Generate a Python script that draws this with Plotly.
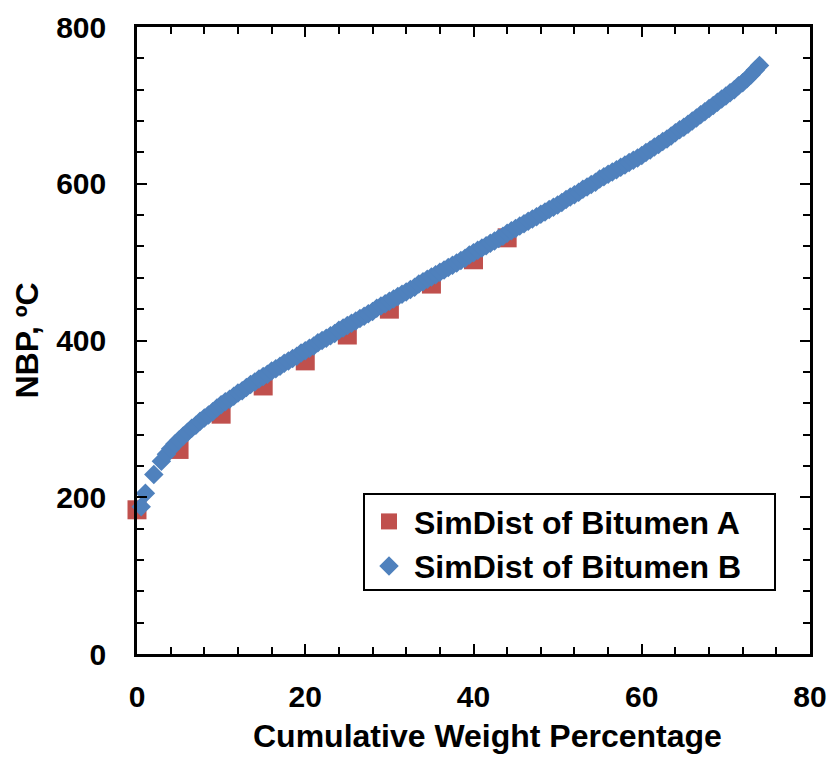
import plotly.graph_objects as go

# Bitumen A (red squares)
a_x = [0, 5, 10, 15, 20, 25, 30, 35, 40, 44]
a_y = [184, 261, 306, 342, 374, 407, 440, 472, 503, 531]

# Bitumen B (blue diamonds)
b_x = [0.5, 1.0, 2.0, 2.9, 3.5,
       4.0, 4.5, 5.0, 5.5, 6.0, 6.5, 7.0, 7.5, 8.0, 8.5, 9.0, 9.5,
       10.0, 10.5, 11.0, 11.5, 12.0, 12.5, 13.0, 13.5, 14.0, 14.5,
       15.0, 15.5, 16.0, 16.5, 17.0, 17.5, 18.0, 18.5, 19.0, 19.5,
       20.0, 20.5, 21.0, 21.5, 22.0, 22.5, 23.0, 23.5, 24.0, 24.5,
       25.0, 25.5, 26.0, 26.5, 27.0, 27.5, 28.0, 28.5, 29.0, 29.5,
       30.0, 30.5, 31.0, 31.5, 32.0, 32.5, 33.0, 33.5, 34.0, 34.5,
       35.0, 35.5, 36.0, 36.5, 37.0, 37.5, 38.0, 38.5, 39.0, 39.5,
       40.0, 40.5, 41.0, 41.5, 42.0, 42.5, 43.0, 43.5, 44.0, 44.5,
       45.0, 45.5, 46.0, 46.5, 47.0, 47.5, 48.0, 48.5, 49.0, 49.5,
       50.0, 50.5, 51.0, 51.5, 52.0, 52.5, 53.0, 53.5, 54.0, 54.5,
       55.0, 55.5, 56.0, 56.5, 57.0, 57.5, 58.0, 58.5, 59.0, 59.5,
       60.0, 60.5, 61.0, 61.5, 62.0, 62.5, 63.0, 63.5, 64.0, 64.5,
       65.0, 65.5, 66.0, 66.5, 67.0, 67.5, 68.0, 68.5, 69.0, 69.5,
       70.0, 70.5, 71.0, 71.5, 72.0, 72.5, 73.0, 73.5, 74.0]
b_y = [188, 205, 229, 246, 255,
       262, 268, 273, 278, 283, 288, 292, 297, 301, 305, 309, 314,
       318, 322, 325, 329, 333, 336, 340, 344, 347, 351,
       354, 357, 361, 364, 367, 371, 374, 377, 380, 384,
       387, 390, 393, 397, 400, 403, 406, 409, 413, 416,
       419, 422, 425, 428, 431, 434, 437, 441, 444, 447,
       450, 453, 456, 459, 462, 465, 468, 472, 475, 478,
       481, 484, 487, 490, 493, 496, 499, 502, 505, 509,
       512, 515, 518, 521, 524, 527, 530, 533, 537, 540,
       543, 546, 549, 552, 555, 558, 561, 564, 567, 570,
       573, 576, 580, 583, 586, 589, 593, 596, 599, 602,
       606, 609, 612, 615, 618, 621, 624, 627, 630, 633,
       636, 640, 643, 647, 650, 654, 657, 661, 665, 669,
       672, 676, 680, 684, 688, 692, 696, 700, 704, 708,
       712, 716, 720, 725, 729, 734, 739, 745, 751]

X_TITLE = "Cumulative Weight Percentage"
Y_TITLE = "NBP, ºC"

RED = "#C0504D"
BLUE = "#4F81BD"
FONT = "Liberation Sans, Arial, sans-serif"

fig = go.Figure()
fig.add_trace(go.Scatter(
    x=a_x, y=a_y, mode="markers", name="SimDist of Bitumen A",
    marker=dict(symbol="square", size=19, color=RED, line=dict(width=0)),
    cliponaxis=False,
))
fig.add_trace(go.Scatter(
    x=b_x, y=b_y, mode="markers", name="SimDist of Bitumen B",
    marker=dict(symbol="diamond", size=15, color=BLUE, line=dict(width=0)),
    cliponaxis=False,
))

axis_common = dict(
    showline=True, linecolor="black", linewidth=2.5, mirror="allticks",
    ticks="inside", ticklen=10, tickwidth=2, tickcolor="black",
    showgrid=False, zeroline=False,
    tickfont=dict(family=FONT, size=30, color="black", weight="bold"),
)

# legend frame (paper coordinates of the plot area)
fig.add_shape(type="rect", xref="paper", yref="paper",
              x0=0.3373, x1=0.948, y0=0.102, y1=0.255,
              line=dict(color="black", width=2), fillcolor="rgba(0,0,0,0)",
              layer="above")

# x-axis title, slightly right of centre as in the original
fig.add_annotation(text=X_TITLE, xref="paper", yref="paper",
                   x=0.521, y=-0.131, xanchor="center", yanchor="middle",
                   showarrow=False,
                   font=dict(family=FONT, size=32, color="black", weight="bold"))

fig.update_layout(
    width=832, height=765,
    margin=dict(l=137, r=22, t=27, b=111, autoexpand=False),
    paper_bgcolor="white", plot_bgcolor="white",
    showlegend=True,
    legend=dict(
        x=0.3373, y=0.255, xanchor="left", yanchor="top",
        borderwidth=0, bgcolor="rgba(0,0,0,0)",
        font=dict(family=FONT, size=32, color="black", weight="bold"),
        itemwidth=40,
    ),
    xaxis=dict(
        range=[0, 80], tickmode="linear", tick0=0, dtick=20,
        minor=dict(dtick=4, ticks="inside", ticklen=7, tickwidth=2, tickcolor="black"),
        ticklabelstandoff=14,
        **axis_common,
    ),
    yaxis=dict(
        range=[0, 800], tickmode="linear", tick0=0, dtick=200,
        minor=dict(dtick=40, ticks="inside", ticklen=7, tickwidth=2, tickcolor="black"),
        ticklabelstandoff=22,
        title=dict(text=Y_TITLE, standoff=8,
                   font=dict(family=FONT, size=32, color="black", weight="bold")),
        **axis_common,
    ),
)

fig.write_html("out.html")
